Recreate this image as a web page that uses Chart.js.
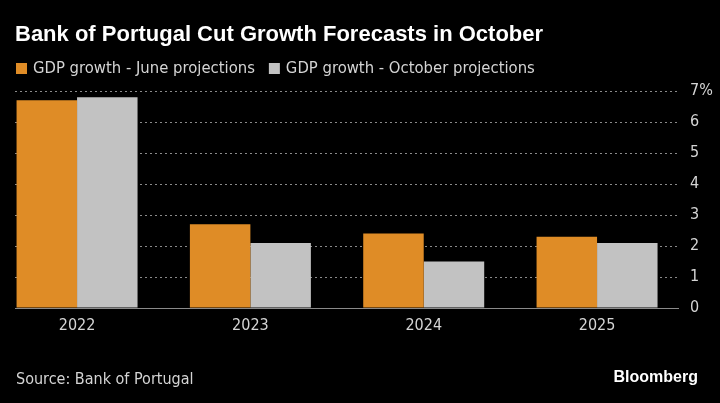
<!DOCTYPE html>
<html>
<head>
<meta charset="utf-8">
<script src="https://cdn.jsdelivr.net/npm/chart.js@4"></script>
<style>
  html, body { margin: 0; padding: 0; background: #000; }
  #wrap { position: relative; width: 720px; height: 403px; }
</style>
</head>
<body>
<div id="wrap"><canvas id="c" width="720" height="403"></canvas></div>
<script>
// Bank of Portugal GDP growth projections, June vs October
var years = ['2022', '2023', '2024', '2025'];
var juneProj = [6.7, 2.7, 2.4, 2.3];
var octoberProj = [6.8, 2.1, 1.5, 2.1];
var yTicks = [0, 1, 2, 3, 4, 5, 6, 7];

var orange = '#df8c26', grey = '#c2c2c2', text = '#d4d4d4';
var narrow = '"Liberation Sans Narrow", "DejaVu Sans Condensed", "Liberation Sans", sans-serif';

// title, legend and footer drawn straight on the canvas
var chrome = {
  id: 'chrome',
  afterDraw: function (chart) {
    var ctx = chart.ctx;
    ctx.save();
    ctx.textBaseline = 'middle';
    ctx.textAlign = 'left';

    ctx.fillStyle = '#fff';
    ctx.font = 'bold 22px "Liberation Sans", Arial, sans-serif';
    ctx.fillText('Bank of Portugal Cut Growth Forecasts in October', 15, 35);

    ctx.font = '16.5px ' + narrow;
    var x = 16;
    chart.data.datasets.forEach(function (ds) {
      ctx.fillStyle = ds.backgroundColor;
      ctx.fillRect(x, 63, 11, 11);
      ctx.fillStyle = text;
      ctx.fillText(ds.label, x + 17, 69);
      x += 17 + ctx.measureText(ds.label).width + 14;
    });

    ctx.font = '16px ' + narrow;
    ctx.fillText('Source: Bank of Portugal', 16, 380);
    ctx.fillStyle = '#fff';
    ctx.font = 'bold 16px "Liberation Sans", Arial, sans-serif';
    ctx.textAlign = 'right';
    ctx.fillText('Bloomberg', 698, 378);
    ctx.restore();
  }
};

new Chart(document.getElementById('c'), {
  type: 'bar',
  data: {
    labels: years,
    datasets: [
      { label: 'GDP growth - June projections', data: juneProj, backgroundColor: orange },
      { label: 'GDP growth - October projections', data: octoberProj, backgroundColor: grey }
    ]
  },
  options: {
    responsive: false,
    animation: false,
    datasets: { bar: { categoryPercentage: 0.698, barPercentage: 1 } },
    layout: { padding: { left: 15, right: 0, top: 91, bottom: 55 } },
    plugins: {
      legend: { display: false },
      tooltip: { enabled: false }
    },
    scales: {
      x: {
        type: 'linear',
        offset: false,
        min: +years[0] - 0.358,
        max: +years[years.length - 1] + 0.467,
        afterBuildTicks: function (s) { s.ticks = years.map(function (y) { return { value: +y }; }); },
        afterFit: function (s) { s.height = 40; },
        grid: { display: false },
        border: { display: true, color: '#8a8a8a', width: 1 },
        ticks: { color: text, padding: 0, font: { family: narrow, size: 16 },
                 callback: function (v) { return String(v); } }
      },
      y: {
        position: 'right',
        min: 0, max: 7,
        afterBuildTicks: function (s) { s.ticks = yTicks.map(function (v) { return { value: v }; }); },
        afterFit: function (s) { s.width = 42; },
        grid: { color: '#8a8a8a', drawTicks: false, lineWidth: 1 },
        border: { display: false, dash: [2, 3] },
        ticks: { color: text, padding: 12, font: { family: narrow, size: 16 },
                 callback: function (v) { return v === 7 ? v + '%' : String(v); } }
      }
    }
  },
  plugins: [chrome]
});
</script>
</body>
</html>
